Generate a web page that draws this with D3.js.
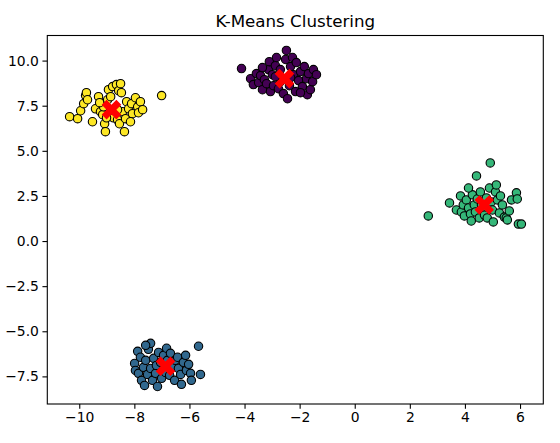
<!DOCTYPE html>
<html>
<head>
<meta charset="utf-8">
<script src="https://cdn.jsdelivr.net/npm/d3@7"></script>
<style>
  html, body { margin: 0; padding: 0; background: #fff; }
  svg { display: block; font-family: "DejaVu Sans", sans-serif; }
</style>
</head>
<body>
<svg id="chart" width="560" height="443"></svg>
<script>
// ---- data ----
const title = "K-Means Clustering";
const xTicks = [-10, -8, -6, -4, -2, 0, 2, 4, 6];
const yTicks = [-7.5, -5.0, -2.5, 0.0, 2.5, 5.0, 7.5, 10.0];
const clusterColors = ["#440154", "#31688e", "#35b779", "#fde725"];

const cluster0 = [ // purple
  [-4.11,9.56],[-3.78,9.00],[-3.68,8.67],[-3.57,9.28],[-3.49,8.78],[-3.42,9.17],[-3.35,8.39],[-3.28,8.94],
  [-3.20,8.72],[-3.13,9.50],[-3.10,9.94],[-3.06,8.28],[-2.99,9.22],[-2.95,8.61],[-2.88,9.72],[-2.84,10.17],
  [-2.77,8.44],[-2.70,9.50],[-2.59,8.17],[-2.51,10.06],[-2.48,10.56],[-2.44,7.89],[-2.37,8.61],[-2.33,9.67],
  [-2.26,10.17],[-2.22,9.22],[-2.15,8.28],[-2.12,9.89],[-2.04,8.89],[-1.97,9.39],[-1.90,8.56],[-1.83,9.67],
  [-1.75,9.00],[-1.72,8.11],[-1.68,9.28],[-1.61,8.39],[-1.53,8.83],[-1.50,9.50],[-1.39,9.22],[-2.70,8.83],
  [-2.33,9.06],[-2.88,9.11],[-3.35,9.61],[-1.97,8.22]
];
const cluster1 = [ // blue
  [-7.99,-6.78],[-7.96,-7.17],[-7.88,-6.11],[-7.85,-7.33],[-7.78,-6.44],[-7.74,-7.72],[-7.67,-7.00],[-7.63,-8.00],
  [-7.59,-6.61],[-7.52,-7.39],[-7.49,-6.00],[-7.41,-5.67],[-7.41,-7.06],[-7.34,-7.72],[-7.30,-6.50],[-7.23,-7.33],
  [-7.20,-6.89],[-7.12,-6.17],[-7.05,-6.72],[-7.01,-7.61],[-6.94,-6.33],[-6.87,-7.28],[-6.83,-5.94],[-6.80,-6.61],
  [-6.72,-7.44],[-6.69,-6.22],[-6.61,-7.00],[-6.54,-7.72],[-6.51,-6.61],[-6.43,-6.44],[-6.40,-7.06],[-6.32,-7.39],
  [-6.29,-7.94],[-6.22,-6.72],[-6.14,-6.33],[-6.11,-7.17],[-6.03,-6.83],[-5.96,-7.33],[-5.93,-7.72],[-5.67,-5.83],
  [-5.60,-7.39],[-7.59,-5.78],[-7.16,-8.06]
];
const cluster2 = [ // green
  [2.67,1.39],[3.44,2.11],[3.69,1.72],[3.84,2.50],[3.87,1.61],[3.94,2.00],[3.98,1.39],[4.05,2.28],
  [4.13,1.83],[4.20,1.50],[4.23,1.11],[4.27,2.56],[4.34,2.00],[4.38,1.61],[4.42,3.61],[4.45,2.33],
  [4.52,1.28],[4.56,2.72],[4.63,1.72],[4.71,1.44],[4.78,2.39],[4.81,1.28],[4.89,2.94],[4.92,4.33],
  [4.96,2.17],[5.00,1.72],[5.03,1.06],[5.11,2.72],[5.14,3.11],[5.18,2.28],[5.25,1.56],[5.29,2.50],
  [5.36,2.00],[5.43,1.33],[5.50,1.28],[5.54,1.17],[5.61,1.67],[5.69,2.28],[5.87,2.67],[5.90,2.33],
  [5.94,0.94],[6.05,0.94],[4.13,2.94],[4.60,2.00]
];
const cluster3 = [ // yellow
  [-10.35,6.89],[-10.06,6.78],[-9.95,7.22],[-9.84,7.61],[-9.77,8.06],[-9.74,8.22],[-9.70,7.83],[-9.52,6.61],
  [-9.41,7.33],[-9.30,8.00],[-9.23,7.17],[-9.15,7.00],[-9.12,7.44],[-9.08,6.50],[-9.05,6.06],[-8.97,7.83],
  [-8.94,8.39],[-8.86,8.00],[-8.79,8.56],[-8.65,8.67],[-8.57,8.33],[-8.50,8.72],[-8.47,8.22],[-8.76,6.83],
  [-8.61,6.72],[-8.54,6.50],[-8.43,7.17],[-8.36,6.06],[-8.32,6.78],[-8.28,7.72],[-8.21,7.33],[-8.10,7.61],
  [-8.07,7.06],[-7.96,7.94],[-7.88,7.44],[-7.78,7.72],[-7.85,7.11],[-7.70,7.28],[-7.01,8.06],[-8.61,7.28],
  [-9.01,6.83],[-9.26,7.67],[-8.14,6.61]
];
const centroidX = [-2.55, -6.87, 4.70, -8.83];
const centroidY = [9.00, -6.94, 2.00, 7.28];

// ---- layout ----
const svg = d3.select("#chart");
const mLeft = 47.3, mRight = 543.3, mTop = 35.5, mBottom = 404;
const x = d3.scaleLinear().domain([-11.16, 6.845]).range([mLeft, mRight]);
const y = d3.scaleLinear().domain([-9.03, 11.39]).range([mBottom, mTop]);

const clusters = [cluster0, cluster1, cluster2, cluster3];
const pts = [];
clusters.forEach((c, i) => c.forEach(p => pts.push({x: p[0], y: p[1], k: i})));

const plot = svg.append("g");
plot.selectAll("circle").data(pts).enter().append("circle")
  .attr("cx", d => x(d.x)).attr("cy", d => y(d.y)).attr("r", 4.2)
  .attr("fill", d => clusterColors[d.k])
  .attr("stroke", "#000").attr("stroke-width", 1.1);

// filled X marker (matplotlib 'X'), s=200 -> ~19.6px wide
const xs = 19.6 / 4;
const xPath = [[-1,-2],[0,-1],[1,-2],[2,-1],[1,0],[2,1],[1,2],[0,1],[-1,2],[-2,1],[-1,0],[-2,-1]]
  .map((p, i) => (i ? "L" : "M") + (p[0]*xs).toFixed(2) + "," + (p[1]*xs).toFixed(2)).join("") + "Z";
const cent = centroidX.map((v, i) => ({x: v, y: centroidY[i]}));
plot.selectAll("path.cent").data(cent).enter().append("path")
  .attr("class", "cent")
  .attr("d", xPath)
  .attr("transform", d => `translate(${x(d.x)},${y(d.y)})`)
  .attr("fill", "red");

// axes
const fmtX = d => d3.format("d")(d).replace("-", "\u2212");
const fmtY = d => d3.format(".1f")(d).replace("-", "\u2212");
const xAxis = svg.append("g").attr("transform", `translate(0,${mBottom})`)
  .call(d3.axisBottom(x).tickValues(xTicks).tickFormat(fmtX).tickSize(4.86).tickPadding(3.5).tickSizeOuter(0));
const yAxis = svg.append("g").attr("transform", `translate(${mLeft},0)`)
  .call(d3.axisLeft(y).tickValues(yTicks).tickFormat(fmtY).tickSize(4.86).tickPadding(3.5).tickSizeOuter(0));
[xAxis, yAxis].forEach(a => {
  a.select(".domain").remove();
  a.selectAll("line").attr("stroke", "#000").attr("stroke-width", 1.1);
  a.selectAll("text").attr("fill", "#000").style("font-family", "DejaVu Sans").style("font-size", "13.9px");
});

// frame
svg.append("rect").attr("x", mLeft).attr("y", mTop).attr("width", mRight - mLeft).attr("height", mBottom - mTop)
  .attr("fill", "none").attr("stroke", "#000").attr("stroke-width", 1.1);

// title
svg.append("text").attr("x", (mLeft + mRight) / 2).attr("y", 26.5)
  .attr("text-anchor", "middle").style("font-family", "DejaVu Sans").style("font-size", "16.7px")
  .attr("fill", "#000").text(title);
</script>
</body>
</html>
